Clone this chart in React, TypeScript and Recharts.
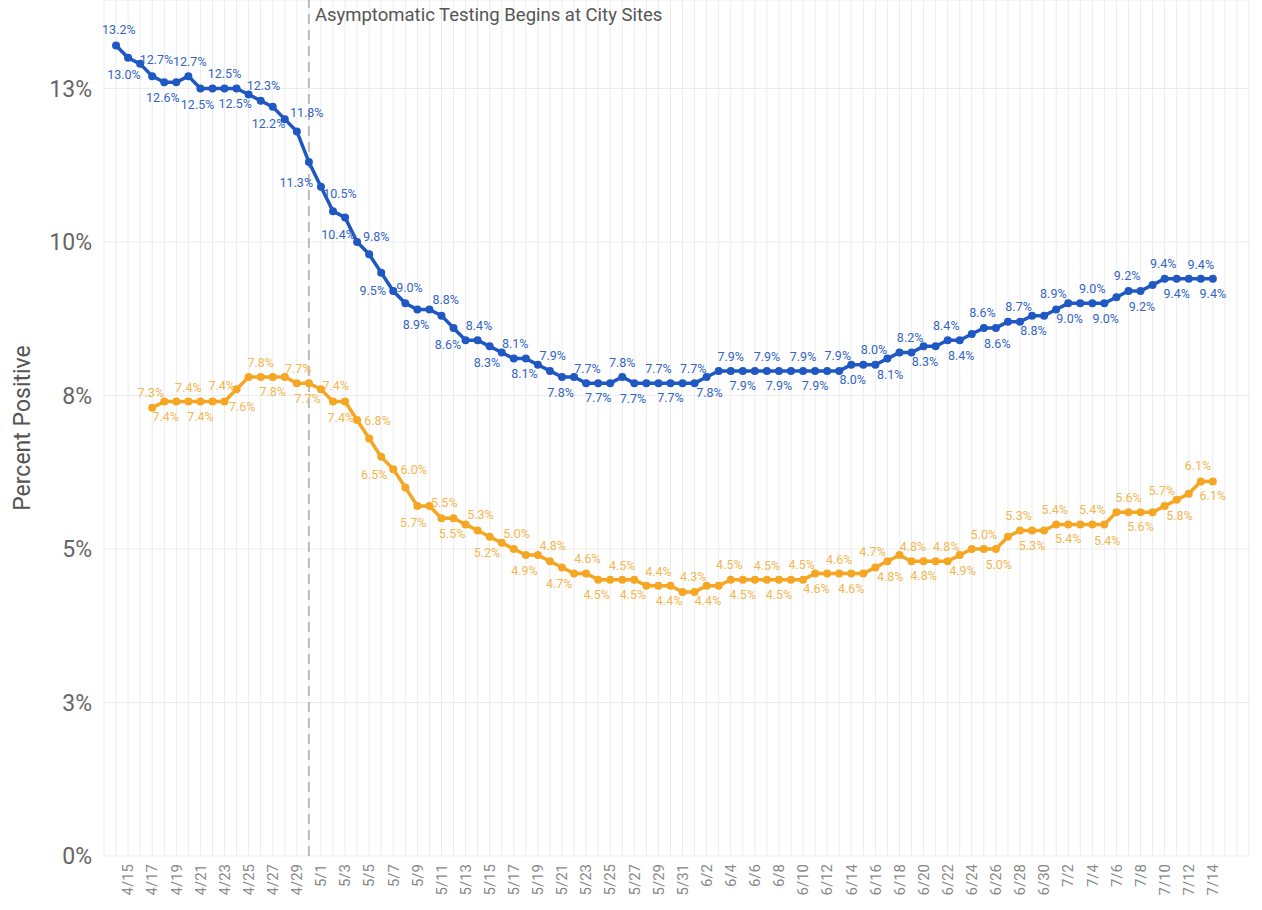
import React from 'react';
import {
  LineChart,
  Line,
  XAxis,
  YAxis,
  CartesianGrid,
  ReferenceLine,
  LabelList,
} from 'recharts';

// one category per day, 4/13 to 7/17 (the axis runs a few days past the data)
const days = [
  '4/13', '4/14', '4/15', '4/16', '4/17', '4/18', '4/19', '4/20', '4/21', '4/22',
  '4/23', '4/24', '4/25', '4/26', '4/27', '4/28', '4/29', '4/30',
  '5/1', '5/2', '5/3', '5/4', '5/5', '5/6', '5/7', '5/8', '5/9', '5/10',
  '5/11', '5/12', '5/13', '5/14', '5/15', '5/16', '5/17', '5/18', '5/19', '5/20',
  '5/21', '5/22', '5/23', '5/24', '5/25', '5/26', '5/27', '5/28', '5/29', '5/30', '5/31',
  '6/1', '6/2', '6/3', '6/4', '6/5', '6/6', '6/7', '6/8', '6/9', '6/10',
  '6/11', '6/12', '6/13', '6/14', '6/15', '6/16', '6/17', '6/18', '6/19', '6/20',
  '6/21', '6/22', '6/23', '6/24', '6/25', '6/26', '6/27', '6/28', '6/29', '6/30',
  '7/1', '7/2', '7/3', '7/4', '7/5', '7/6', '7/7', '7/8', '7/9', '7/10',
  '7/11', '7/12', '7/13', '7/14', '7/15', '7/16', '7/17',
];

const tickLabels = [
  '4/15', '4/17', '4/19', '4/21', '4/23', '4/25', '4/27', '4/29',
  '5/1', '5/3', '5/5', '5/7', '5/9', '5/11', '5/13', '5/15', '5/17', '5/19',
  '5/21', '5/23', '5/25', '5/27', '5/29', '5/31',
  '6/2', '6/4', '6/6', '6/8', '6/10', '6/12', '6/14', '6/16', '6/18', '6/20',
  '6/22', '6/24', '6/26', '6/28', '6/30',
  '7/2', '7/4', '7/6', '7/8', '7/10', '7/12', '7/14',
];

// blue series, 4/14 .. 7/14
const blueValues = [
  13.2, 13.0, 12.9, 12.7, 12.6, 12.6, 12.7, 12.5, 12.5, 12.5,
  12.5, 12.4, 12.3, 12.2, 12.0, 11.8, 11.3, 10.9, 10.5, 10.4,
  10.0, 9.8, 9.5, 9.2, 9.0, 8.9, 8.9, 8.8, 8.6, 8.4,
  8.4, 8.3, 8.2, 8.1, 8.1, 8.0, 7.9, 7.8, 7.8, 7.7,
  7.7, 7.7, 7.8, 7.7, 7.7, 7.7, 7.7, 7.7, 7.7, 7.8,
  7.9, 7.9, 7.9, 7.9, 7.9, 7.9, 7.9, 7.9, 7.9, 7.9,
  7.9, 8.0, 8.0, 8.0, 8.1, 8.2, 8.2, 8.3, 8.3, 8.4,
  8.4, 8.5, 8.6, 8.6, 8.7, 8.7, 8.8, 8.8, 8.9, 9.0,
  9.0, 9.0, 9.0, 9.1, 9.2, 9.2, 9.3, 9.4, 9.4, 9.4,
  9.4, 9.4,
];

// orange series, 4/17 .. 7/14
const orangeValues = [
  7.3, 7.4, 7.4, 7.4, 7.4, 7.4, 7.4,
  7.6, 7.8, 7.8, 7.8, 7.8, 7.7, 7.7, 7.6, 7.4, 7.4,
  7.1, 6.8, 6.5, 6.3, 6.0, 5.7, 5.7, 5.5, 5.5, 5.4,
  5.3, 5.2, 5.1, 5.0, 4.9, 4.9, 4.8, 4.7, 4.6, 4.6,
  4.5, 4.5, 4.5, 4.5, 4.4, 4.4, 4.4, 4.3, 4.3, 4.4,
  4.4, 4.5, 4.5, 4.5, 4.5, 4.5, 4.5, 4.5, 4.6, 4.6,
  4.6, 4.6, 4.6, 4.7, 4.8, 4.9, 4.8, 4.8, 4.8, 4.8,
  4.9, 5.0, 5.0, 5.0, 5.2, 5.3, 5.3, 5.3, 5.4, 5.4,
  5.4, 5.4, 5.4, 5.6, 5.6, 5.6, 5.6, 5.7, 5.8, 5.9,
  6.1, 6.1,
];

const yTicks = [0, 2.5, 5, 7.5, 10, 12.5];

const blueStart = days.indexOf('4/14');
const orangeStart = days.indexOf('4/17');

const data = days.map((day, i) => ({
  day,
  blue: blueValues[i - blueStart] ?? null,
  orange: orangeValues[i - orangeStart] ?? null,
}));

const BLUE = '#1f57c3';
const BLUE_TEXT = '#3465c6';
const ORANGE = '#f5a623';
const ORANGE_TEXT = '#f4b650';
const FONT = 'Roboto, sans-serif';

function XTick({ x, y, payload }: any) {
  if (!tickLabels.includes(payload.value)) return <g />;
  return (
    <g transform={`translate(${x},${y})`}>
      <text
        transform="rotate(-90)"
        textAnchor="end"
        dy="0.35em"
        fontSize={15}
        fill="#888"
        fontFamily={FONT}
      >
        {payload.value}
      </text>
    </g>
  );
}

// labels go on two of every three points, alternating above / below;
// on a slope they slide sideways (and a bit further out) to clear the line
const makeLabel = (color: string, key: 'blue' | 'orange') => (props: any) => {
  const { x, y, value, index } = props;
  if (value === null || value === undefined) return null;
  const m = (index - blueStart) % 3;
  if (m === 2) return null;
  const prev = data[index - 1]?.[key] ?? value;
  const next = data[index + 1]?.[key] ?? value;
  const delta = Number(next) - Number(prev);
  const shift = Math.max(-20, Math.min(20, delta * 14));
  const lift = Math.min(6, Math.abs(delta) * 6);
  const above = m === 0;
  return (
    <text
      x={above ? x - shift : x + shift}
      y={above ? y - 10 - lift : y + 19 + lift}
      textAnchor="middle"
      fontSize={12.5}
      fill={color}
      fontFamily={FONT}
    >
      {Number(value).toFixed(1)}%
    </text>
  );
};

const yLabel = (props: any) => {
  const { viewBox } = props;
  const cx = viewBox.x + 22;
  const cy = viewBox.y + viewBox.height / 2;
  return (
    <text
      x={cx}
      y={cy}
      transform={`rotate(-90 ${cx} ${cy})`}
      textAnchor="middle"
      dominantBaseline="central"
      fontSize={23}
      fill="#555"
      fontFamily={FONT}
    >
      Percent Positive
    </text>
  );
};

const noteLabel = (props: any) => {
  const { viewBox } = props;
  return (
    <text x={viewBox.x + 6} y={viewBox.y + 21} fontSize={18.5} fill="#555" fontFamily={FONT}>
      Asymptomatic Testing Begins at City Sites
    </text>
  );
};

export default function App() {
  return (
    <div style={{ background: '#fff' }}>
      <style>{'body{margin:0}'}</style>
      <LineChart
        width={1262}
        height={910}
        data={data}
        margin={{ top: 0, right: 13, bottom: 0, left: 0 }}
      >
        <CartesianGrid stroke="#ececec" strokeWidth={1} />
        <XAxis
          dataKey="day"
          interval={0}
          height={54}
          tick={<XTick />}
          tickSize={0}
          tickMargin={8}
          axisLine={false}
          tickLine={false}
        />
        <YAxis
          domain={[0, 13.94]}
          ticks={yTicks}
          width={104}
          tickFormatter={(v) => `${Math.round(v)}%`}
          tick={{ fontSize: 23, fill: '#666', fontFamily: FONT }}
          tickSize={0}
          tickMargin={12}
          axisLine={false}
          tickLine={false}
          label={yLabel}
        />
        <ReferenceLine
          x="4/30"
          stroke="#bbb"
          strokeWidth={2}
          strokeDasharray="10 6"
          label={noteLabel}
        />
        <Line
          dataKey="orange"
          stroke={ORANGE}
          strokeWidth={3.5}
          dot={{ r: 4, fill: ORANGE, stroke: ORANGE, strokeWidth: 0 }}
          activeDot={false}
          isAnimationActive={false}
        >
          <LabelList dataKey="orange" content={makeLabel(ORANGE_TEXT, 'orange')} />
        </Line>
        <Line
          dataKey="blue"
          stroke={BLUE}
          strokeWidth={3.5}
          dot={{ r: 4, fill: BLUE, stroke: BLUE, strokeWidth: 0 }}
          activeDot={false}
          isAnimationActive={false}
        >
          <LabelList dataKey="blue" content={makeLabel(BLUE_TEXT, 'blue')} />
        </Line>
      </LineChart>
    </div>
  );
}
